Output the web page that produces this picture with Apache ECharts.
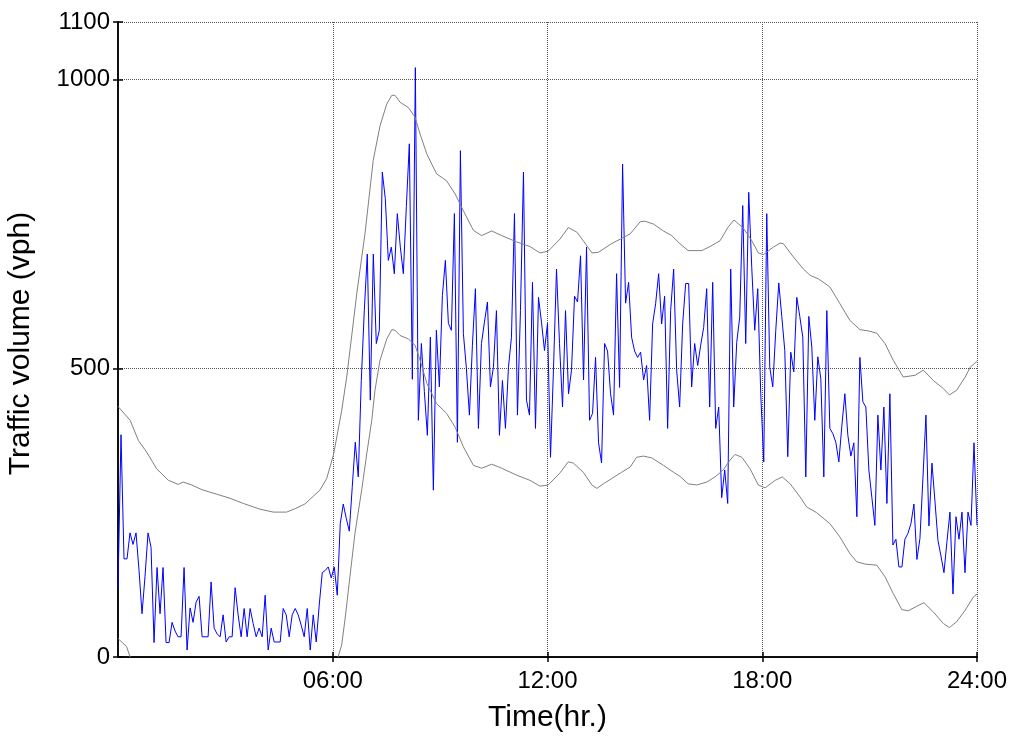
<!DOCTYPE html>
<html>
<head>
<meta charset="utf-8">
<script src="https://cdn.jsdelivr.net/npm/echarts@6.0.0/dist/echarts.min.js"></script>
<style>
  html, body { margin: 0; padding: 0; background: #fff; }
  #chart { width: 1012px; height: 740px; }
</style>
</head>
<body>
<div id="chart"></div>
<script>
// 5-minute traffic volume over one day (vph)
const volume = [
  120, 385, 170, 170, 215, 195, 215, 150, 75, 140, 215, 190, 25, 155, 75, 155, 25, 25, 60, 45,
  35, 35, 155, 12, 85, 60, 95, 105, 35, 35, 35, 130, 50, 40, 35, 73, 26, 35, 35, 120,
  73, 35, 84, 35, 84, 58, 35, 50, 35, 107, 12, 50, 26, 26, 26, 84, 73, 35, 73, 84,
  73, 55, 35, 84, 12, 73, 26, 90, 146, 150, 156, 137, 156,
  107, 231, 265, 240, 218, 295, 372, 312, 479, 600, 698, 445, 698, 543, 566, 840, 794, 687, 710, 664,
  768, 710, 664, 780, 889, 481, 1021, 410, 543, 460, 384, 554, 289, 566, 468, 626, 687, 578, 566, 768,
  372, 877, 560, 500, 419, 540, 638, 396, 543, 580, 615, 468, 502, 600, 384, 479, 396, 502, 554, 768,
  419, 600, 840, 445, 419, 649, 396, 623, 580, 531, 578,
  346, 500, 672, 543, 433, 600, 456, 497, 625, 615, 695, 480, 710, 410, 422, 519, 371, 336, 543, 530,
  456, 419, 664, 467, 854, 613, 649, 554, 530, 519, 528, 480, 505, 410, 577, 612, 664, 577, 625, 396,
  600, 672, 497, 433, 577, 647, 647, 468, 543, 505, 540, 571, 638, 433, 649, 396, 433, 276, 324, 266,
  672, 433, 545, 589, 782, 543, 805, 675, 566, 638, 456, 338, 768, 502, 468,
  566, 648, 590, 531, 347, 528, 494, 623, 590, 554, 312, 590, 537, 410, 520, 482, 312, 600, 396, 387,
  372, 338, 400, 456, 384, 348, 371, 243, 519, 442, 433, 324, 276, 228, 419, 324, 433, 266, 456, 194,
  204, 156, 156, 204, 214, 231, 265, 169, 205, 310, 419, 227, 336, 270, 202, 175, 146, 200, 251, 109,
  243, 204, 251, 146, 251, 228, 371, 228
]

// upper bound (gray)
const upperHr = [0, 0.34, 0.57, 0.8, 1.08, 1.41, 1.68, 1.82, 2.06, 2.34, 2.76, 3.13, 3.5, 3.97, 4.34, 4.71, 4.95, 5.22, 5.64, 5.83,
  6.02, 6.25, 6.39, 6.57, 6.67, 6.9, 7.13, 7.32, 7.51, 7.65, 7.74, 7.88, 8.11, 8.3, 8.44, 8.63, 8.9, 9.18, 9.42, 9.65,
  9.93, 10.16, 10.44, 10.72, 11.14, 11.51, 11.79, 12.02, 12.35, 12.58, 12.82, 13.0, 13.24, 13.42, 13.79, 14.31, 14.59, 14.72, 14.96, 15.24,
  15.47, 15.7, 15.93, 16.31, 16.54, 16.82, 17.05, 17.21, 17.47, 17.71, 17.89, 18.03, 18.31, 18.5, 18.59, 18.87, 19.15, 19.34, 19.57, 19.89,
  20.17, 20.45, 20.73, 20.96, 21.2, 21.43, 21.66, 21.94, 22.27, 22.5, 22.78, 23.06, 23.23, 23.43, 23.67, 23.81, 23.94, 24]
const upperVol = [434, 410, 375, 355, 326, 306, 299, 303, 298, 290, 282, 275, 266, 256, 251, 251, 257, 265, 289, 309,
  350, 427, 485, 577, 629, 733, 860, 920, 958, 973, 973, 961, 952, 935, 906, 871, 837, 825, 802, 773,
  739, 730, 738, 730, 719, 711, 700, 703, 724, 744, 736, 721, 700, 701, 716, 733, 754, 755, 750, 738,
  730, 716, 704, 704, 711, 721, 745, 757, 743, 721, 700, 697, 710, 717, 716, 693, 672, 661, 655, 641,
  612, 583, 567, 565, 561, 543, 514, 485, 488, 497, 479, 465, 454, 462, 485, 502, 509, 512]

// lower bound (gray), null = below the axis
const lowerHr = [0, 0.24, 0.34, 3, 6.15, 6.25, 6.34, 6.48, 6.62, 6.81, 6.95, 7.09, 7.18, 7.32, 7.51, 7.65, 7.74, 7.88, 8.11, 8.3,
  8.44, 8.63, 8.9, 9.18, 9.42, 9.65, 9.93, 10.16, 10.44, 10.72, 11.14, 11.51, 11.79, 12.02, 12.35, 12.58, 12.72, 13.0, 13.24, 13.38,
  13.56, 13.79, 14.07, 14.31, 14.49, 14.68, 14.91, 15.24, 15.52, 15.7, 15.93, 16.17, 16.45, 16.68, 16.91, 17.1, 17.24, 17.43, 17.66, 17.89,
  18.08, 18.36, 18.56, 18.78, 19.06, 19.24, 19.52, 19.89, 20.17, 20.45, 20.64, 20.87, 21.2, 21.43, 21.66, 21.9, 22.08, 22.32, 22.52, 22.78,
  23.06, 23.23, 23.43, 23.67, 23.9, 24]
const lowerVol = [32, 18, 0, null, 0, 21, 64, 139, 214, 290, 352, 410, 462, 514, 551, 567, 566, 557, 551, 540,
  514, 474, 439, 422, 398, 364, 332, 327, 334, 327, 315, 306, 296, 298, 319, 338, 336, 320, 298, 292,
  300, 309, 320, 329, 346, 348, 345, 332, 320, 313, 300, 298, 303, 312, 324, 341, 351, 346, 326, 298,
  293, 306, 312, 300, 277, 260, 250, 231, 208, 179, 165, 161, 159, 139, 110, 82, 80, 88, 94, 78,
  58, 51, 61, 81, 104, 109]

const yTicks = [0, 500, 1000, 1100]
const xTicks = [6, 12, 18, 24]

const font = 'Liberation Sans, Arial, sans-serif'
const axisLine = { show: true, lineStyle: { color: '#000', width: 1.5 } }
const tick = { show: true, inside: true, length: 5, lineStyle: { color: '#000', width: 1.5 } }
const grid = { show: true, lineStyle: { color: '#555', type: 'dotted', width: 1 } }

const chart = echarts.init(document.getElementById('chart'))
chart.setOption({
  animation: false,
  backgroundColor: '#fff',
  grid: { left: 118, right: 35, top: 22, bottom: 83, outerBoundsMode: 'none' },
  xAxis: [
    {
      type: 'value', min: 0, max: 24, interval: 6, position: 'bottom',
      axisLine: axisLine,
      axisTick: Object.assign({}, tick, { customValues: xTicks }),
      splitLine: grid,
      axisLabel: {
        customValues: xTicks, margin: 12, color: '#000', fontSize: 24, fontFamily: font,
        formatter: v => (v < 10 ? '0' : '') + v + ':00'
      },
      name: 'Time(hr.)', nameLocation: 'middle', nameGap: 46,
      nameTextStyle: { color: '#000', fontSize: 30, fontFamily: font }
    },
    {
      type: 'value', min: 0, max: 24, interval: 6, position: 'top',
      axisLine: axisLine,
      axisTick: Object.assign({}, tick, { customValues: xTicks }),
      axisLabel: { show: false }, splitLine: { show: false }
    }
  ],
  yAxis: [
    {
      type: 'value', min: 0, max: 1100, interval: 500, position: 'left',
      axisLine: axisLine,
      axisTick: Object.assign({}, tick, { customValues: yTicks }),
      splitLine: grid,
      axisLabel: {
        customValues: yTicks, margin: 8, color: '#000', fontSize: 24, fontFamily: font,
        formatter: v => String(v)
      },
      name: 'Traffic volume (vph)', nameLocation: 'middle', nameGap: 82, nameRotate: 90,
      nameTextStyle: { color: '#000', fontSize: 30, fontFamily: font, padding: [0, 8, 0, 0] }
    },
    {
      type: 'value', min: 0, max: 1100, interval: 500, position: 'right',
      axisLine: axisLine,
      axisTick: Object.assign({}, tick, { customValues: yTicks }),
      axisLabel: { show: false }, splitLine: { show: false }
    }
  ],
  series: [
    {
      type: 'line', showSymbol: false, symbol: 'none',
      lineStyle: { color: '#0000ff', width: 1 },
      data: volume.map((v, i) => [i * 24 / (volume.length - 1), v])
    },
    {
      type: 'line', showSymbol: false, symbol: 'none',
      lineStyle: { color: '#808080', width: 1 },
      data: upperHr.map((h, i) => [h, upperVol[i]])
    },
    {
      type: 'line', showSymbol: false, symbol: 'none',
      lineStyle: { color: '#808080', width: 1 },
      data: lowerHr.map((h, i) => [h, lowerVol[i] === null ? '-' : lowerVol[i]])
    }
  ]
})
</script>
</body>
</html>
